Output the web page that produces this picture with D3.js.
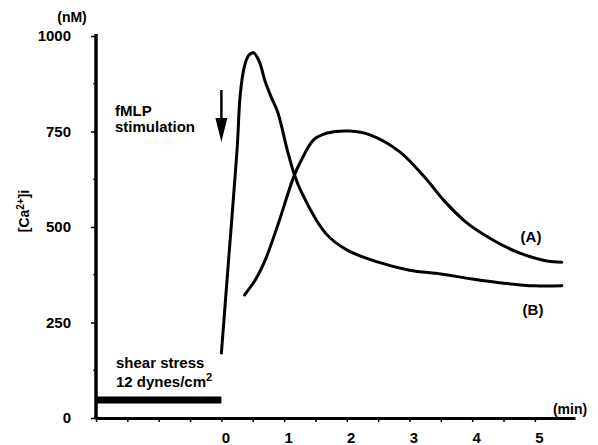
<!DOCTYPE html>
<html>
<head>
<meta charset="utf-8">
<script src="https://cdn.jsdelivr.net/npm/d3@7"></script>
<style>
  body { margin: 0; background: #fff; }
  text { font-family: "Liberation Sans", Arial, sans-serif; font-weight: bold; fill: #000; }
  .axis path, .axis line { stroke: #000; }
  .axis text { font-size: 15px; }
</style>
</head>
<body>
<div id="chart"></div>
<script>
// time (min) and [Ca2+]i (nM)
var timeA = [0.37, 0.55, 0.7, 0.91, 1.15, 1.26, 1.47, 1.69, 2.05, 2.37, 2.85, 3.28, 3.54, 3.92, 4.33, 4.71, 5.19, 5.43];
var caA   = [322, 364, 414, 510, 630, 670, 728, 746, 751, 741, 696, 623, 571, 510, 466, 435, 411, 408];

var timeB = [0.0, 0.12, 0.25, 0.3, 0.36, 0.43, 0.51, 0.6, 0.7, 0.8, 0.9, 1.05, 1.15, 1.26, 1.66, 2.0, 2.5, 3.0, 3.5, 4.0, 4.5, 5.0, 5.43];
var caB   = [170, 425, 702, 845, 915, 948, 956, 935, 880, 838, 800, 702, 644, 597, 484, 440, 408, 387, 377, 364, 353, 346, 346];

var shearTime = [-2, 0];
var shearLevel = 47;

var yTicks = [0, 250, 500, 750, 1000];
var yMinor = [125, 375, 625, 875];
var xTicks = d3.range(-2, 5.01, 0.5);
var xLabels = [0, 1, 2, 3, 4, 5];

var width = 598, height = 445;

var svg = d3.select("#chart").append("svg")
  .attr("width", width)
  .attr("height", height);

var x = d3.scaleLinear().domain([-2, 5.64]).range([96, 575]);
var y = d3.scaleLinear().domain([0, 1000]).range([418, 36]);

// x axis
var xAxis = d3.axisBottom(x)
  .tickValues(xTicks)
  .tickSize(4)
  .tickSizeOuter(0)
  .tickFormat(function(d) { return xLabels.indexOf(d) >= 0 ? d : ""; });

var gx = svg.append("g")
  .attr("class", "axis")
  .attr("transform", "translate(0," + y(0) + ")")
  .call(xAxis);
gx.select(".domain").attr("stroke-width", 3);
gx.selectAll(".tick line").attr("stroke-width", 1.5);
gx.selectAll(".tick text").attr("y", 0).attr("dy", 0).attr("dx", 4)
  .attr("transform", "translate(0,25)");

// y axis
var yAxis = d3.axisLeft(y)
  .tickValues(yTicks)
  .tickSize(5)
  .tickSizeOuter(0)
  .tickPadding(20)
  .tickFormat(d3.format("d"));

var gy = svg.append("g")
  .attr("class", "axis")
  .attr("transform", "translate(" + x(-2) + ",0)")
  .call(yAxis);
gy.select(".domain").attr("stroke-width", 3.5)
  .attr("d", "M0," + (y(0) + 1) + "V" + (y(1000) - 2));
gy.selectAll(".tick line").attr("stroke-width", 1.5);

gy.selectAll(".minor")
  .data(yMinor)
  .enter().append("line")
  .attr("x1", -3).attr("x2", 0)
  .attr("y1", function(d) { return y(d); })
  .attr("y2", function(d) { return y(d); })
  .attr("stroke", "#000").attr("stroke-width", 1);

// axis labels
svg.append("text").attr("x", 72).attr("y", 22)
  .attr("text-anchor", "middle").style("font-size", "14px").text("(nM)");
svg.append("text").attr("x", 570).attr("y", 414)
  .attr("text-anchor", "middle").style("font-size", "14px").text("(min)");

var yl = svg.append("text")
  .attr("transform", "translate(29,211) rotate(-90)")
  .attr("text-anchor", "middle")
  .style("font-size", "14px");
yl.append("tspan").text("[Ca");
yl.append("tspan").attr("dy", -5).style("font-size", "10px").text("2+");
yl.append("tspan").attr("dy", 5).text("]i");

// shear stress bar
svg.append("line")
  .attr("x1", x(shearTime[0])).attr("x2", x(shearTime[1]))
  .attr("y1", y(shearLevel)).attr("y2", y(shearLevel))
  .attr("stroke", "#000").attr("stroke-width", 7);

svg.append("text").attr("x", 116).attr("y", 368)
  .style("font-size", "15px").text("shear stress");
var sh = svg.append("text").attr("x", 116).attr("y", 387)
  .style("font-size", "15px");
sh.append("tspan").text("12 dynes/cm");
sh.append("tspan").attr("dy", -6).style("font-size", "11px").text("2");

// fMLP label and arrow
svg.append("text").attr("x", 115).attr("y", 116)
  .style("font-size", "15px").text("fMLP");
svg.append("text").attr("x", 115).attr("y", 132)
  .style("font-size", "15px").text("stimulation");

svg.append("line")
  .attr("x1", x(0)).attr("x2", x(0))
  .attr("y1", 90).attr("y2", 122)
  .attr("stroke", "#000").attr("stroke-width", 2.5);
svg.append("path")
  .attr("d", "M" + (x(0) - 6) + ",118L" + (x(0) + 6) + ",118L" + x(0) + ",142Z")
  .attr("fill", "#000");

// curves
var line = d3.line()
  .x(function(d) { return x(d[0]); })
  .y(function(d) { return y(d[1]); })
  .curve(d3.curveCatmullRom.alpha(0.5));

var seriesA = d3.zip(timeA, caA);
var seriesB = d3.zip(timeB, caB);

svg.selectAll(".curve")
  .data([seriesA, seriesB])
  .enter().append("path")
  .attr("class", "curve")
  .attr("d", line)
  .attr("fill", "none")
  .attr("stroke", "#000")
  .attr("stroke-width", 3)
  .attr("stroke-linejoin", "round")
  .attr("stroke-linecap", "round");

svg.append("text").attr("x", 531).attr("y", 242)
  .attr("text-anchor", "middle").style("font-size", "15px").text("(A)");
svg.append("text").attr("x", 533).attr("y", 315)
  .attr("text-anchor", "middle").style("font-size", "15px").text("(B)");
</script>
</body>
</html>
